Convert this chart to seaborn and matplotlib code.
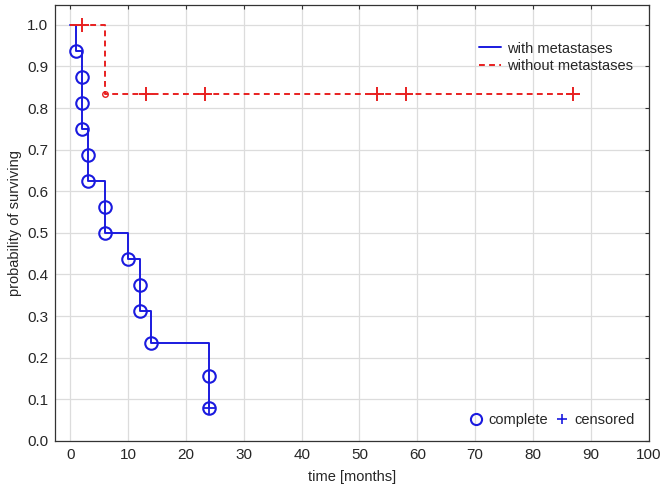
import numpy as np
import pandas as pd
import matplotlib
matplotlib.use("Agg")
import matplotlib.pyplot as plt
import seaborn as sns
from matplotlib.lines import Line2D

# Kaplan-Meier estimates
met_time = [0, 1, 2, 2, 2, 3, 3, 6, 6, 10, 12, 12, 14, 24, 24]
met_surv = [1.0, 0.9375, 0.875, 0.8125, 0.75, 0.6875, 0.625, 0.5625, 0.5,
            0.4375, 0.375, 0.3125, 0.2344, 0.1563, 0.0781]
met_cens_time = [24]
met_cens_surv = [0.0781]

nomet_time = [0, 6, 87]
nomet_surv = [1.0, 0.8333, 0.8333]
nomet_cens_time = [2, 13, 23.3, 53, 58, 87]
nomet_cens_surv = [1.0, 0.8333, 0.8333, 0.8333, 0.8333, 0.8333]

blue = "#1a1adf"
red = "#e82020"

sns.set_style("white")
plt.rcParams["font.family"] = ["Liberation Sans", "DejaVu Sans"]

fig = plt.figure(figsize=(6.66, 4.92), dpi=100)
ax = fig.add_axes([0.083, 0.104, 0.891, 0.886])

met = pd.DataFrame({"t": met_time, "s": met_surv})
nomet = pd.DataFrame({"t": nomet_time, "s": nomet_surv})

sns.lineplot(data=met, x="t", y="s", estimator=None, sort=False, ax=ax,
             drawstyle="steps-post", color=blue, lw=1.4)
sns.lineplot(data=nomet, x="t", y="s", estimator=None, sort=False, ax=ax,
             drawstyle="steps-post", color=red, lw=1.4, dashes=(3, 2.2))

# complete (event) markers
ax.plot(met["t"][1:], met["s"][1:], "o", ms=9, mfc="none", mec=blue, mew=1.5, zorder=4)
ax.plot(nomet["t"][1:2], nomet["s"][1:2], "o", ms=4, mfc="none", mec=red, mew=1, zorder=4)
# censored markers
ax.plot(met_cens_time, met_cens_surv, "+", ms=9, mec=blue, mew=1.3, zorder=5)
ax.plot(nomet_cens_time, nomet_cens_surv, "+", ms=10, mec=red, mew=1.4, zorder=5)

ax.set_xlim(-2.6, 100)
ax.set_ylim(0, 1.048)
ax.set_xticks(np.arange(0, 101, 10))
ax.set_yticks(np.arange(0, 1.01, 0.1))
ax.set_yticklabels([f"{v:.1f}" for v in np.arange(0, 1.01, 0.1)])
ax.grid(True, color="#dcdcdc", lw=0.9)
ax.set_axisbelow(True)
for sp in ax.spines.values():
    sp.set_color("#333333")
    sp.set_linewidth(0.9)
ax.tick_params(axis="both", labelsize=11, length=3, color="#333333",
               top=True, right=True, direction="in", pad=5)
ax.set_xlabel("time [months]", fontsize=10.5, labelpad=6)
ax.set_ylabel("probability of surviving", fontsize=10.5, labelpad=4)

h1 = [Line2D([], [], color=blue, lw=1.4),
      Line2D([], [], color=red, lw=1.4, ls=(0, (3, 2.2)))]
leg1 = ax.legend(h1, ["with metastases", "without metastases"], loc="upper right",
                 bbox_to_anchor=(0.995, 0.946), frameon=False, fontsize=10.5,
                 handlelength=1.5, handletextpad=0.4, labelspacing=0.25)
ax.add_artist(leg1)
h2 = [Line2D([], [], ls="none", marker="o", ms=8, mfc="none", mec=blue, mew=1.5),
      Line2D([], [], ls="none", marker="+", ms=7, mec=blue, mew=1.2)]
ax.legend(h2, ["complete", "censored"], loc="lower right", ncol=2,
          bbox_to_anchor=(0.998, 0.002), frameon=False, fontsize=10.5,
          handlelength=0.8, handletextpad=0.45, columnspacing=0.5)

fig.savefig("out.png", dpi=100)
